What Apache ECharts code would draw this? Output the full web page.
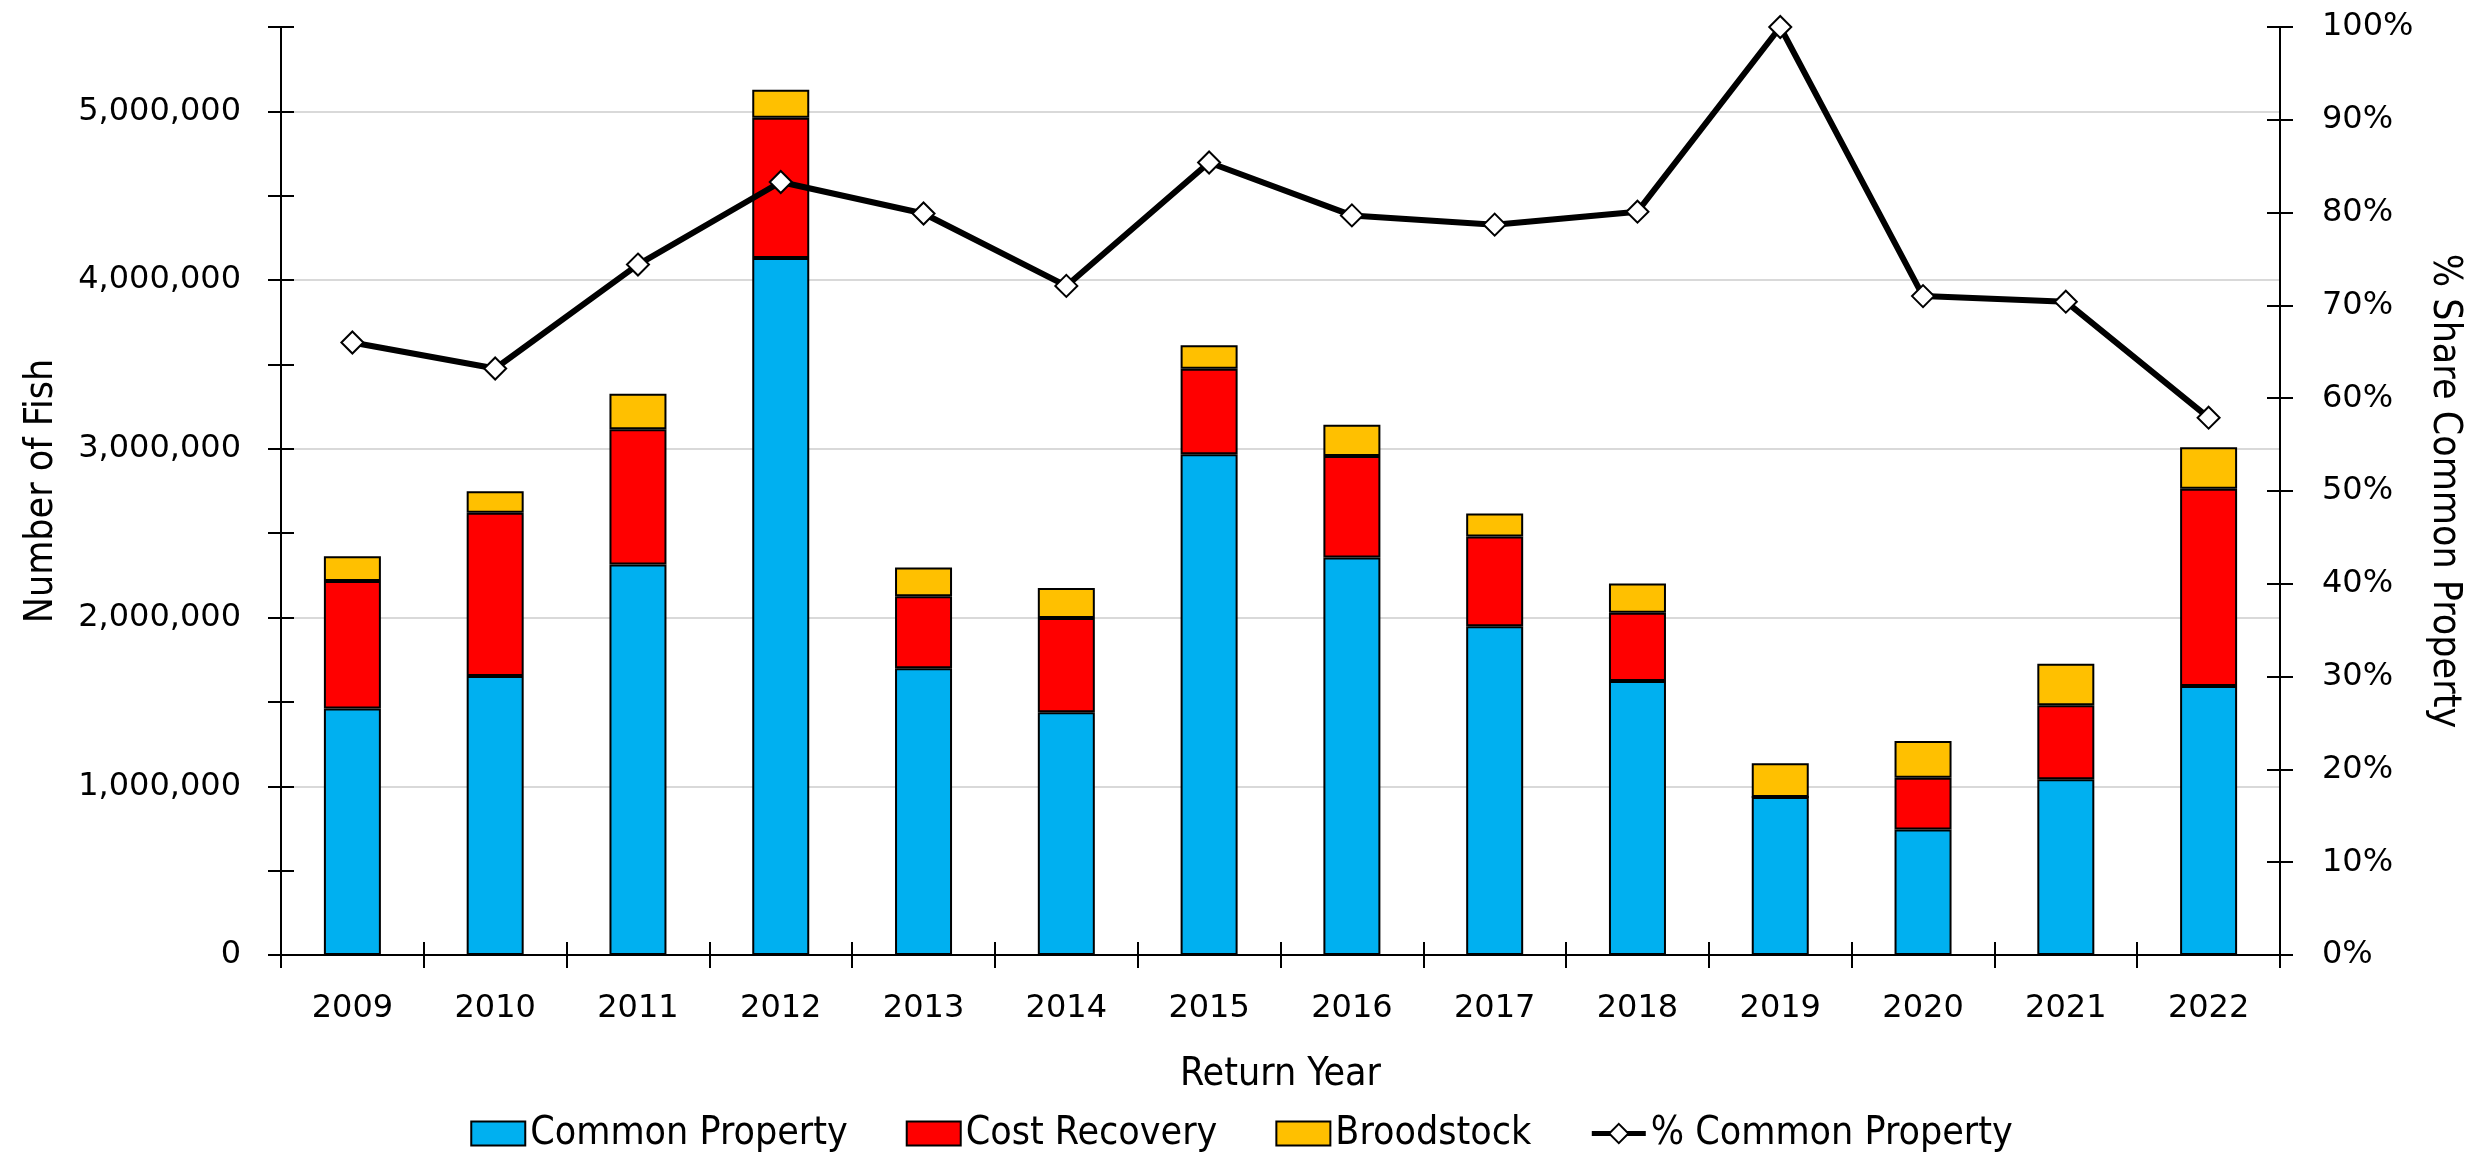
<!DOCTYPE html>
<html>
<head>
<meta charset="utf-8">
<script src="https://cdn.jsdelivr.net/npm/echarts@6/dist/echarts.min.js"></script>
<style>
  html, body { margin: 0; padding: 0; background: #fff; }
  #chart { width: 2483px; height: 1159px; }
</style>
</head>
<body>
<div id="chart"></div>
<script>
// 数据
const years = ['2009', '2010', '2011', '2012', '2013', '2014', '2015', '2016', '2017', '2018', '2019', '2020', '2021', '2022']
const commonProperty = [1461000, 1654000, 2315000, 4131000, 1699000, 1439000, 2968000, 2356000, 1949000, 1624000, 937000, 744000, 1042000, 1594000]
const costRecovery = [756000, 967000, 801000, 831000, 427000, 559000, 506000, 601000, 532000, 404000, 0, 306000, 438000, 1170000]
const broodstock = [147000, 128000, 211000, 166000, 170000, 177000, 140000, 185000, 136000, 174000, 200000, 219000, 246000, 246000]
const pctCommon = [66.0, 63.2, 74.4, 83.3, 79.9, 72.1, 85.4, 79.7, 78.7, 80.1, 100, 71.0, 70.4, 57.9]

const tickFont = 'DejaVu Sans'
const nameFont = "'DejaVu Sans Condensed', sans-serif"
const nameSize = 39
const black = '#000'

const chart = echarts.init(document.getElementById('chart'))

// 柱子的公共样式
function barSeries(name, data, color) {
    return {
        name: name,
        type: 'bar',
        stack: 'fish',
        yAxisIndex: 0,
        barWidth: 57,
        data: data,
        itemStyle: { color: color, borderColor: black, borderWidth: 2 }
    }
}

const option = {
    backgroundColor: '#fff',
    animation: false,
    grid: { left: 281, right: 203, top: 27, bottom: 204, containLabel: false },
    legend: {
        top: 1109,
        left: 'center',
        itemWidth: 54,
        itemHeight: 24,
        itemGap: 58,
        textStyle: { fontFamily: nameFont, fontSize: nameSize, color: black },
        lineStyle: { width: 5, color: black },
        data: [
            { name: 'Common Property', icon: 'rect' },
            { name: 'Cost Recovery', icon: 'rect' },
            { name: 'Broodstock', icon: 'rect' },
            '% Common Property'
        ]
    },
    xAxis: [
        {
            type: 'category',
            data: years,
            position: 'bottom',
            z: 3,
            boundaryGap: true,
            name: 'Return Year',
            nameLocation: 'middle',
            nameGap: 100,
            nameTextStyle: { fontFamily: nameFont, fontSize: nameSize, color: black },
            axisLine: { lineStyle: { color: black, width: 2 } },
            axisTick: { show: true, length: 13, lineStyle: { color: black, width: 2 } },
            axisLabel: { fontFamily: tickFont, fontSize: 32, color: black, margin: 38 },
            splitLine: { show: false }
        },
        {
            // 让刻度线穿过轴线
            type: 'category',
            data: years,
            position: 'bottom',
            z: 3,
            axisLine: { show: false },
            axisTick: { show: true, inside: true, length: 13, lineStyle: { color: black, width: 2 } },
            axisLabel: { show: false },
            splitLine: { show: false }
        }
    ],
    yAxis: [
        {
            type: 'value',
            position: 'left',
            min: 0,
            max: 5500000,
            interval: 500000,
            z: 3,
            name: 'Number of Fish',
            nameLocation: 'middle',
            nameRotate: 90,
            nameGap: 220,
            nameTextStyle: { fontFamily: nameFont, fontSize: nameSize, color: black },
            axisLine: { show: true, lineStyle: { color: black, width: 2 } },
            axisTick: { show: true, length: 13, lineStyle: { color: black, width: 2 } },
            axisLabel: {
                fontFamily: tickFont, fontSize: 32, color: black, margin: 40,
                formatter: v => (v % 1000000 === 0 ? v.toLocaleString('en-US') : '')
            },
            splitLine: { show: false }
        },
        {
            type: 'value',
            position: 'right',
            min: 0,
            max: 100,
            interval: 10,
            z: 3,
            name: '% Share Common Property',
            nameLocation: 'middle',
            nameRotate: -90,
            nameGap: 139,
            nameTextStyle: { fontFamily: nameFont, fontSize: nameSize, color: black },
            axisLine: { show: true, lineStyle: { color: black, width: 2 } },
            axisTick: { show: true, length: 13, lineStyle: { color: black, width: 2 } },
            axisLabel: { fontFamily: tickFont, fontSize: 32, color: black, margin: 42, formatter: '{value}%' },
            splitLine: { show: false }
        },
        {
            // 网格线，每一百万一条
            type: 'value',
            position: 'left',
            min: 0,
            max: 5500000,
            interval: 1000000,
            z: 0,
            axisLine: { show: false },
            axisTick: { show: false },
            axisLabel: { show: false },
            splitLine: { show: true, showMinLine: false, showMaxLine: false, lineStyle: { color: '#d9d9d9', width: 2 } }
        },
        {
            type: 'value',
            position: 'left',
            min: 0,
            max: 5500000,
            interval: 500000,
            z: 3,
            axisLine: { show: false },
            axisTick: { show: true, inside: true, length: 13, lineStyle: { color: black, width: 2 } },
            axisLabel: { show: false },
            splitLine: { show: false }
        },
        {
            type: 'value',
            position: 'right',
            min: 0,
            max: 100,
            interval: 10,
            z: 3,
            axisLine: { show: false },
            axisTick: { show: true, inside: true, length: 13, lineStyle: { color: black, width: 2 } },
            axisLabel: { show: false },
            splitLine: { show: false }
        }
    ],
    series: [
        barSeries('Common Property', commonProperty, '#00b0f0'),
        barSeries('Cost Recovery', costRecovery, '#ff0000'),
        barSeries('Broodstock', broodstock, '#ffc000'),
        {
            name: '% Common Property',
            type: 'line',
            yAxisIndex: 1,
            z: 5,
            data: pctCommon,
            symbol: 'diamond',
            symbolSize: 22,
            showAllSymbol: true,
            lineStyle: { color: black, width: 6 },
            itemStyle: { color: '#fff', borderColor: black, borderWidth: 2 }
        }
    ]
}

chart.setOption(option)
</script>
</body>
</html>
